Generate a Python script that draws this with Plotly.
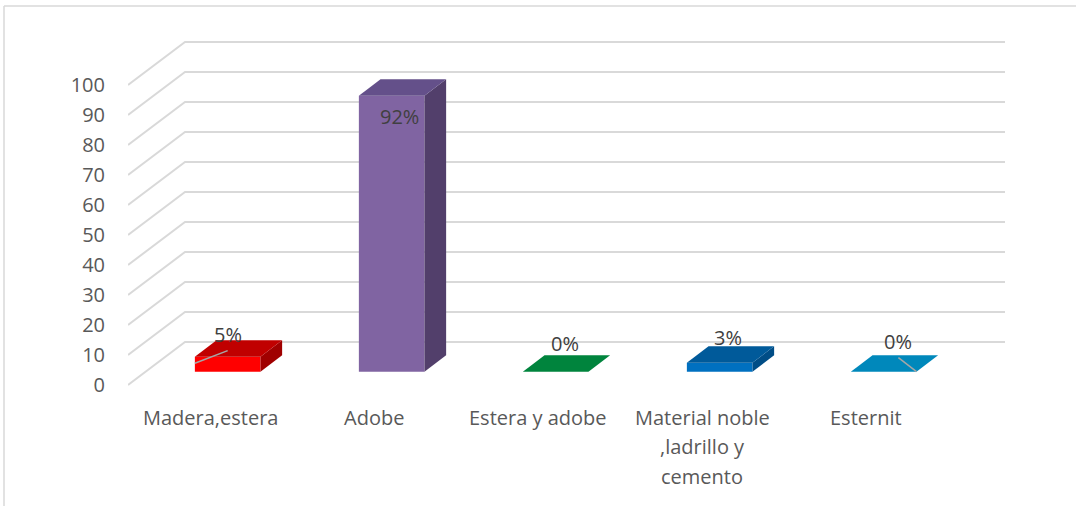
import plotly.graph_objects as go

# ---------------- data ----------------
categories = ["Madera,estera", "Adobe", "Estera y adobe", "Material noble\n,ladrillo y\ncemento", "Esternit"]
values = [5, 92, 0, 3, 0]
value_labels = ["5%", "92%", "0%", "3%", "0%"]
y_ticks = [0, 10, 20, 30, 40, 50, 60, 70, 80, 90, 100]

# ---------------- styling ----------------
front_colors = ["#FF0000", "#8064A2", "#00843D", "#0070C0", "#0088BB"]
top_colors = ["#C00000", "#64508A", "#00843D", "#005A9A", "#0088BB"]
side_colors = ["#A00000", "#523F6B", "#006B31", "#004D86", "#006E98"]
# per-label nudges (pixels) mimicking the manually placed Excel labels
label_xshift = [-11, -3, -2, -3, 3]
label_yshift = [6, -37, 12, 9, 14]

FONT = "Open Sans, Lato, sans-serif"
W, H = 1076, 506
ML, MR, MT, MB = 128, 66, 36, 116
PX_X = 164.0   # pixels per category on the front plane
PX_Y = 3.0     # pixels per value unit
DX = 57 / PX_X     # depth offset (x, data units)
DY = 43 / PX_Y     # depth offset (y, data units)
F0, F1 = 0.31, 0.69  # bar depth range as fraction of full depth
HALF = 0.2           # half bar width
n = len(categories)
x_min = -0.5
x_max = x_min + (W - ML - MR) / PX_X
y_min = -5 / PX_Y
y_max = y_min + (H - MT - MB) / PX_Y
grid_back_right = n - 0.5 + DX

fig = go.Figure()

shapes = []
# gridlines (left wall diagonal + back wall horizontal), drawn below the bars
for t in y_ticks:
    shapes.append(dict(
        type="path", xref="x", yref="y", layer="below",
        path=f"M {x_min},{t} L {x_min + DX},{t + DY} L {grid_back_right},{t + DY}",
        line=dict(color="#D9D9D9", width=2)))

ox, oy = F0 * DX, F0 * DY
dxb, dyb = (F1 - F0) * DX, (F1 - F0) * DY

for i, v in enumerate(values):
    cx = i + ox
    xl, xr = cx - HALF, cx + HALF
    base = oy
    top = base + v
    if v > 0:
        # front face via bar trace
        fig.add_trace(go.Bar(
            x=[cx], y=[v], base=[base], width=[2 * HALF],
            marker=dict(color=front_colors[i], line=dict(width=0)),
            hoverinfo="skip", showlegend=False))
        # side face
        fig.add_trace(go.Scatter(
            x=[xr, xr + dxb, xr + dxb, xr, xr],
            y=[base, base + dyb, top + dyb, top, base],
            mode="lines", fill="toself", fillcolor=side_colors[i],
            line=dict(width=0, color=side_colors[i]),
            hoverinfo="skip", showlegend=False))
    # top face
    fig.add_trace(go.Scatter(
        x=[xl, xr, xr + dxb, xl + dxb, xl],
        y=[top, top, top + dyb, top + dyb, top],
        mode="lines", fill="toself", fillcolor=top_colors[i],
        line=dict(width=0, color=top_colors[i]),
        hoverinfo="skip", showlegend=False))

# leader lines (from label to bar)
i = 0
fig.add_trace(go.Scatter(
    x=[i + ox - HALF, i + ox],
    y=[oy + values[i] / 2 + 0.3, oy + values[i] + 2],
    mode="lines", line=dict(color="#A6A6A6", width=1.5),
    hoverinfo="skip", showlegend=False))
i = 4
fig.add_trace(go.Scatter(
    x=[i + ox + HALF - 0.11, i + ox + HALF],
    y=[oy + values[i] + 4.7, oy + values[i]],
    mode="lines", line=dict(color="#A6A6A6", width=1.5),
    hoverinfo="skip", showlegend=False))

annotations = []
# data labels
for i, (v, lab) in enumerate(zip(values, value_labels)):
    annotations.append(dict(
        x=i + ox + dxb / 2, y=oy + v + dyb, xref="x", yref="y",
        text=lab, showarrow=False, xanchor="center", yanchor="middle",
        xshift=label_xshift[i], yshift=label_yshift[i],
        font=dict(family=FONT, size=20, color="#404040")))

# category labels
for i, c in enumerate(categories):
    for k, line in enumerate(c.split("\n")):
        annotations.append(dict(
            x=i, y=y_min, xref="x", yref="y", text=line, showarrow=False,
            xanchor="center", yanchor="middle", yshift=-27 - 29.5 * k,
            font=dict(family=FONT, size=20, color="#595959")))

pw = W - ML - MR
ph = H - MT - MB
shapes += [
    dict(type="line", xref="paper", yref="paper",
         x0=(4 - ML) / pw, x1=(W + 5 - ML) / pw,
         y0=(H - MB - 6) / ph, y1=(H - MB - 6) / ph,
         line=dict(color="#D9D9D9", width=1.5)),
    dict(type="line", xref="paper", yref="paper",
         x0=(4 - ML) / pw, x1=(4 - ML) / pw,
         y0=(H - MB - 6) / ph, y1=(H - MB - 510) / ph,
         line=dict(color="#D9D9D9", width=1.5)),
]

fig.update_layout(
    width=W, height=H,
    margin=dict(l=ML, r=MR, t=MT, b=MB),
    paper_bgcolor="white", plot_bgcolor="white",
    barmode="overlay",
    annotations=annotations,
    shapes=shapes,
    xaxis=dict(range=[x_min, x_max], visible=False, fixedrange=True),
    yaxis=dict(range=[y_min, y_max], tickvals=y_ticks,
               ticktext=[str(t) for t in y_ticks],
               showgrid=False, zeroline=False, showline=False, ticks="",
               ticklabelstandoff=22, fixedrange=True,
               tickfont=dict(family=FONT, size=20, color="#595959")),
)

fig.write_html("out.html", config={"displayModeBar": False},
               post_script="document.body.style.margin='0px';")
